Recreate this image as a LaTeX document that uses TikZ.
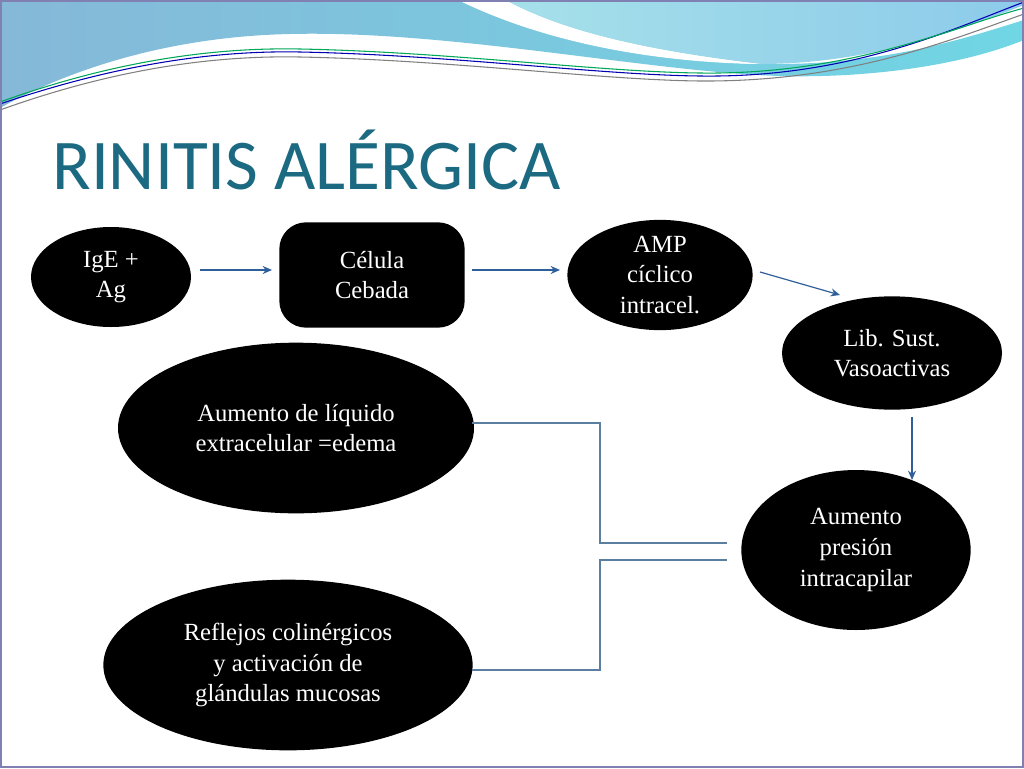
\documentclass[tikz,border=0pt]{standalone}
\usepackage{fontspec}
\setmainfont{Liberation Serif}
\newfontfamily\titlefont{Carlito}
\usetikzlibrary{arrows.meta,shapes.geometric}
\begin{document}
\begin{tikzpicture}[x=0.75pt,y=-0.75pt,
  blob/.style={ellipse,fill=black,text=white,align=center,font=\fontsize{18.5}{23}\selectfont,inner sep=0pt},
  arr/.style={draw=arrowblue,line width=0.9pt,-{Stealth[length=7pt,width=6pt]}},
  link/.style={draw=linkblue,line width=1.2pt}]
\definecolor{arrowblue}{HTML}{2F5F9A}
\definecolor{linkblue}{HTML}{5A7FA0}
\definecolor{titleblue}{HTML}{1B6A82}
\definecolor{hdrA}{HTML}{86B8D8}
\definecolor{hdrB}{HTML}{70D6E4}
\definecolor{hdrC}{HTML}{A6E0EA}
\definecolor{hdrD}{HTML}{8CCBEA}
\useasboundingbox (0,0) rectangle (1024,768);
\fill[white] (0,0) rectangle (1024,768);
% header
\shade[left color=hdrA,right color=hdrB] (0,0)--(460,0) .. controls (560,50) and (680,62) .. (760,64) .. controls (880,66) and (960,40) .. (1024,20) -- (1024,40) .. controls (950,70) and (850,78) .. (780,76) .. controls (650,72) and (450,30) .. (290,34) .. controls (150,37) and (50,80) .. (0,108) -- cycle;
\shade[left color=hdrC,right color=hdrD] (505,0) .. controls (560,30) and (640,50) .. (760,64) .. controls (870,64) and (960,30) .. (1024,5) -- (1024,0) -- cycle;
\fill[white] (458,0) .. controls (560,50) and (680,63) .. (760,64) .. controls (640,50) and (560,30) .. (505,0) -- cycle;
\draw[blue!70!black,line width=0.8pt] (0,104) .. controls (100,70) and (200,50) .. (300,52) .. controls (450,55) and (600,75) .. (700,76) .. controls (850,78) and (950,30) .. (1024,2);
\draw[teal!70!green,line width=0.8pt] (0,102) .. controls (100,66) and (200,47) .. (300,49) .. controls (450,52) and (600,72) .. (700,73) .. controls (850,75) and (950,28) .. (1024,8);
\draw[gray,line width=0.8pt] (0,110) .. controls (100,74) and (200,55) .. (300,57) .. controls (450,60) and (600,80) .. (700,81) .. controls (850,82) and (950,40) .. (1024,14);
\draw[color=black!60!blue!50,line width=2pt] (1,1) rectangle (1023,767);
% title
\node[anchor=base west,inner sep=0pt,text=titleblue,font=\titlefont\fontsize{53.5}{60}\selectfont] (title) at (52,189) {RINITIS ALÉRGICA};
% nodes
\node[blob,minimum width=120pt,minimum height=75pt] (ige) at (111,277) {IgE +\\Ag};
\node[rectangle,rounded corners=20pt,fill=black,text=white,align=center,font=\fontsize{18.5}{23}\selectfont,minimum width=139pt,minimum height=79pt] (cel) at (372,275) {Célula\\Cebada};
\node[blob,minimum width=139pt,minimum height=79pt] (amp) at (660,275) {AMP\\cíclico\\intracel.};
\node[blob,minimum width=165pt,minimum height=85pt] (lib) at (892,353) {Lib. Sust.\\Vasoactivas};
\node[blob,minimum width=172pt,minimum height=120pt] (pres) at (856,550) {Aumento\\presión\\intracapilar};
\node[blob,minimum width=267pt,minimum height=128pt] (liq) at (296,428) {Aumento de líquido\\extracelular =edema};
\node[blob,minimum width=277pt,minimum height=128pt] (ref) at (288,665) {Reflejos colinérgicos\\y  activación de\\glándulas mucosas};
% arrows
\coordinate (a1) at (200,270); \coordinate (a2) at (272,270);
\coordinate (b1) at (472,270); \coordinate (b2) at (560,270);
\coordinate (c1) at (760,272); \coordinate (c2) at (840,295);
\coordinate (d1) at (912,417); \coordinate (d2) at (912,480);
\draw[arr] (a1)--(a2);
\draw[arr] (b1)--(b2);
\draw[arr] (c1)--(c2);
\draw[arr] (d1)--(d2);
\coordinate (e1) at (472,423); \coordinate (e2) at (727,543);
\coordinate (f1) at (472,670); \coordinate (f2) at (727,560);
\draw[link] (e1) -| (600,543) -- (e2);
\draw[link] (f1) -| (600,560) -- (f2);
\end{tikzpicture}
\end{document}
